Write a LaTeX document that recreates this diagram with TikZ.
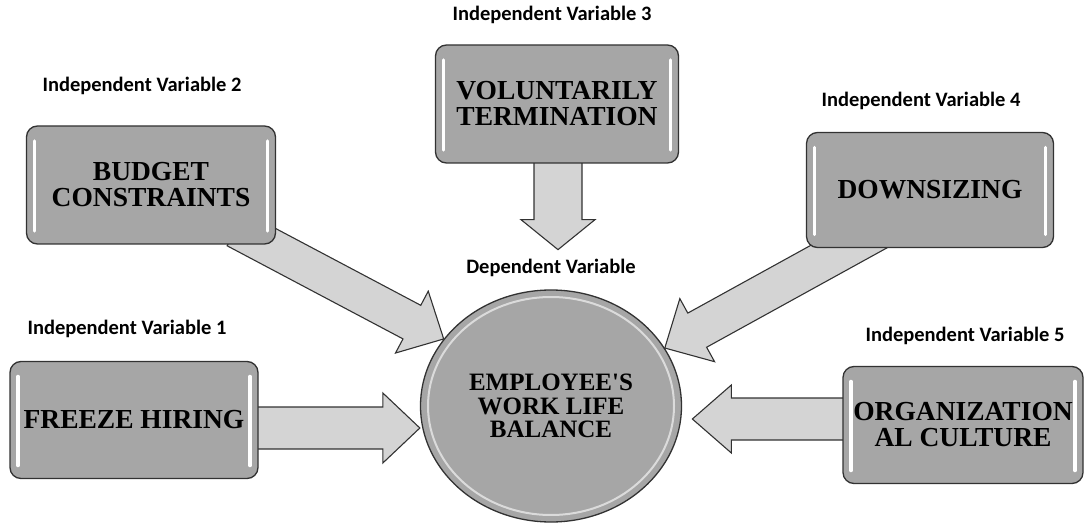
\documentclass[tikz,border=0pt]{standalone}
\usepackage{fontspec}
\setmainfont{Liberation Serif}
\newfontfamily\calibri{Carlito}
\usetikzlibrary{calc,positioning,shapes.geometric}
\pgfdeclarelayer{back}
\pgfsetlayers{back,main}

\definecolor{boxgray}{RGB}{166,166,166}
\definecolor{arrowgray}{RGB}{212,212,212}
\definecolor{rimgray}{RGB}{50,50,50}

\tikzstyle{vbox} = [draw=rimgray, line width=1.3pt, fill=boxgray, rectangle,
    rounded corners=11pt, minimum width=248pt, minimum height=117pt,
    inner sep=0pt, align=center, font=\fontsize{27.5}{26}\selectfont\bfseries,
    path picture={
      \draw[white, line width=3.5pt, line cap=round]
        ([xshift=8pt,yshift=-15pt]path picture bounding box.north west) --
        ([xshift=8pt,yshift=13pt]path picture bounding box.south west)
        ([xshift=-8pt,yshift=-15pt]path picture bounding box.north east) --
        ([xshift=-8pt,yshift=13pt]path picture bounding box.south east);}]
\tikzstyle{vlabel} = [font=\calibri\fontsize{20.5}{22}\selectfont\bfseries]
\tikzstyle{fatarrow} = [draw=rimgray, line width=1.1pt, fill=arrowgray, line join=miter]

% block arrow: tail, tip, shaft half width, head half width, head length
\newcommand{\fatarrow}[5]{%
  \coordinate (fa-base) at ($(#2)!#5pt!(#1)$);
  \draw[fatarrow] ($(#1)!#3pt!90:(#2)$) -- ($(fa-base)!#3pt!-90:(#1)$)
    -- ($(fa-base)!#4pt!-90:(#1)$) -- (#2) -- ($(fa-base)!#4pt!90:(#1)$)
    -- ($(fa-base)!#3pt!90:(#1)$) -- ($(#1)!#3pt!-90:(#2)$) -- cycle;}

\begin{document}
\begin{tikzpicture}[x=1pt, y=-1pt]
\useasboundingbox (0,0) rectangle (1084,526);

\node (wlb) [ellipse, draw=rimgray, line width=1.3pt, fill=boxgray,
    minimum width=261pt, minimum height=232pt, inner sep=0pt, align=center,
    font=\fontsize{25}{23.5}\selectfont\bfseries,
    path picture={
      \draw[white, line width=2pt, opacity=.6]
        (path picture bounding box.center) ellipse [x radius=123pt, y radius=109pt];}]
    at (551,406) {EMPLOYEE\textquotesingle S\\WORK LIFE\\BALANCE};

\node (hiring) [vbox] at (134,420) {FREEZE HIRING};
\node (budget) [vbox, minimum width=249pt, minimum height=118pt] at (151,185) {BUDGET\\CONSTRAINTS};
\node (volunt) [vbox, minimum width=243pt, minimum height=118pt] at (557,104) {VOLUNTARILY\\TERMINATION};
\node (downsz) [vbox, minimum width=247pt, minimum height=115pt] at (930,190) {DOWNSIZING};
\node (orgcult) [vbox, minimum width=240pt] at (963,425) {ORGANIZATION\\AL CULTURE};

\node (iv1) [vlabel] at ($(hiring.north)+(-7,-32)$) {Independent Variable 1};
\node (iv2) [vlabel] at ($(budget.north)+(-9,-39)$) {Independent Variable 2};
\node (iv3) [vlabel] at ($(volunt.north)+(-5,-29)$) {Independent Variable 3};
\node (iv4) [vlabel] at ($(downsz.north)+(-9,-31)$) {Independent Variable 4};
\node (iv5) [vlabel] at ($(orgcult.north)+(2,-30)$) {Independent Variable 5};
\node (dv) [vlabel] at ($(wlb.north)+(0,-21)$) {Dependent Variable};

\coordinate (t1) at ($(hiring.east)+(-20,8)$);
\coordinate (h1) at (wlb.west |- t1);
\coordinate (t2) at ($(budget.center)+(85,44)$);
\coordinate (h2) at (wlb.148);
\coordinate (t3) at ($(volunt.center)+(1,30)$);
\coordinate (h3) at ($(volunt.south)+(1,86)$);
\coordinate (t4) at ($(downsz.center)+(-51,40)$);
\coordinate (h4) at (wlb.27);
\coordinate (t5) at ($(orgcult.west)+(25,-6)$);
\coordinate (h5) at ($(orgcult.west)+(-150,-6)$);

\begin{pgfonlayer}{back}
  \fatarrow{t1}{h1}{21}{35}{37}
  \fatarrow{t2}{h2}{19}{35}{36}
  \fatarrow{t3}{h3}{24}{37}{30}
  \fatarrow{t4}{h4}{19.5}{36}{37}
  \fatarrow{t5}{h5}{21}{34}{39}
\end{pgfonlayer}
\end{tikzpicture}
\end{document}
